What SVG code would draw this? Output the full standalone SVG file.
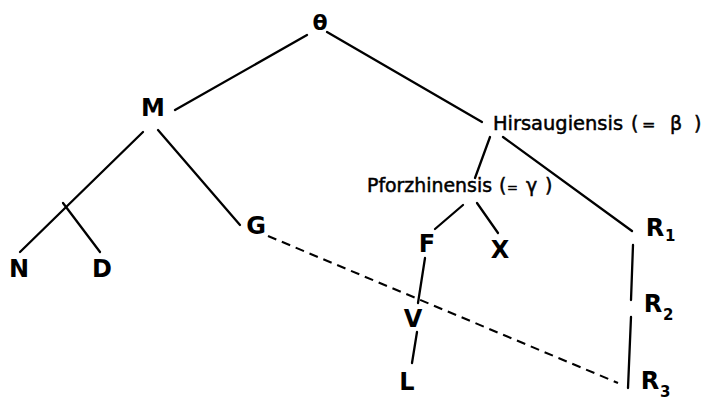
<svg xmlns="http://www.w3.org/2000/svg" width="703" height="401" viewBox="0 0 703 401">
<style>
.bg{fill:#fff}
.e{stroke:#000;stroke-width:2.3;fill:none;stroke-linecap:round}
.d{stroke:#000;stroke-width:2.1;fill:none;stroke-dasharray:9 6}
.n{font-family:"DejaVu Sans","Liberation Sans",sans-serif;font-size:24px;font-weight:bold;fill:#000;text-anchor:middle}
.t{font-family:"DejaVu Sans","Liberation Sans",sans-serif;font-size:22px;font-weight:bold;fill:#000;text-anchor:middle}
.s{font-family:"DejaVu Sans","Liberation Sans",sans-serif;font-size:15px;font-weight:bold;fill:#000}
.l{font-family:"DejaVu Sans","Liberation Sans",sans-serif;font-size:19px;fill:#000;stroke:#000;stroke-width:0.5}
</style>
<rect class="bg" x="0" y="0" width="703" height="401"/>
<g id="connectors">
<line class="e" x1="307" y1="35" x2="175" y2="110"/>
<line class="e" x1="327" y1="32" x2="482" y2="122"/>
<line class="e" x1="143" y1="132" x2="20" y2="252"/>
<line class="e" x1="63" y1="203" x2="100" y2="252"/>
<line class="e" x1="158" y1="130" x2="240" y2="225"/>
<line class="e" x1="490" y1="137" x2="475" y2="178"/>
<line class="e" x1="503" y1="137" x2="632" y2="231"/>
<line class="e" x1="463" y1="205" x2="435" y2="229"/>
<line class="e" x1="477" y1="203" x2="498" y2="233"/>
<line class="e" x1="425" y1="258" x2="418" y2="303"/>
<line class="e" x1="417" y1="332" x2="412" y2="363"/>
<line class="e" x1="633" y1="245" x2="631" y2="300"/>
<line class="e" x1="631" y1="317" x2="628" y2="388"/>
<line class="d" x1="268" y1="236" x2="618" y2="383"/>
</g>
<g id="theta"><text class="t" x="320" y="30">θ</text></g>
<g id="M"><text class="n" x="153" y="116">M</text></g>
<g id="N"><text class="n" x="19" y="277">N</text></g>
<g id="D"><text class="n" x="102" y="277">D</text></g>
<g id="G"><text class="n" x="256" y="234">G</text></g>
<g id="Hirsaugiensis"><text class="l" y="130"><tspan x="493" textLength="130" lengthAdjust="spacingAndGlyphs">Hirsaugiensis</tspan><tspan x="631">(</tspan><tspan x="642" font-size="16">=</tspan><tspan x="670">β</tspan><tspan x="694">)</tspan></text></g>
<g id="Pforzhinensis"><text class="l" y="192"><tspan x="367" textLength="125" lengthAdjust="spacingAndGlyphs">Pforzhinensis</tspan><tspan x="499">(</tspan><tspan x="507" font-size="13">=</tspan><tspan x="526">γ</tspan><tspan x="545">)</tspan></text></g>
<g id="F"><text class="n" x="427" y="252">F</text></g>
<g id="X"><text class="n" x="500" y="258">X</text></g>
<g id="V"><text class="n" x="413" y="327">V</text></g>
<g id="L"><text class="n" x="407" y="390">L</text></g>
<g id="R1"><text class="n" x="655" y="236">R</text><text class="s" x="665" y="241">1</text></g>
<g id="R2"><text class="n" x="653" y="312">R</text><text class="s" x="663" y="320">2</text></g>
<g id="R3"><text class="n" x="650" y="389">R</text><text class="s" x="660" y="397">3</text></g>
</svg>
